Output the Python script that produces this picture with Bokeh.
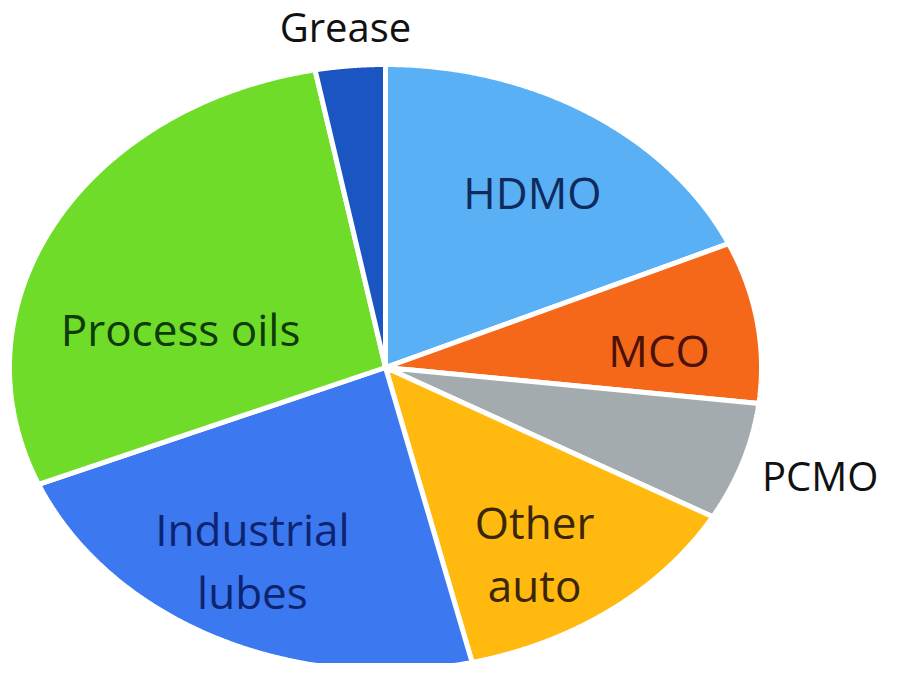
import numpy as np
from bokeh.plotting import figure
from bokeh.models import ColumnDataSource, Range1d
from bokeh.core.properties import value
from bokeh.embed import file_html
from bokeh.resources import INLINE

# data (clockwise from 12 o'clock)
categories = ["HDMO", "MCO", "PCMO", "Other auto", "Industrial lubes", "Process oils", "Grease"]
shares = [18.3, 8.6, 6.3, 13.1, 22.4, 28.3, 3.0]
label_texts = ["HDMO", "MCO", "PCMO", "Other\nauto", "Industrial\nlubes", "Process oils", "Grease"]

# styling / layout
fill_colors = ["#5AB0F5", "#F5681A", "#A3ABAE", "#FFB90F", "#3C78F0", "#6EDC28", "#1B55C2"]
text_colors = ["#0F2A5C", "#4A1208", "#111111", "#3A2608", "#0D2470", "#0F3A0A", "#111111"]
label_radius = [0.70, 0.73, 1.21, 0.73, 0.73, 0.56, 1.13]
label_nudge_deg = [-1, -4, 1, -4, -2, 15, 0]
label_sizes = ["44px", "44px", "40px", "44px", "44px", "44px", "40px"]

vals = np.array(shares, dtype=float)
frac = vals / vals.sum()
cum = np.concatenate([[0.0], np.cumsum(frac)])
# clockwise from top: math angle = pi/2 - 2*pi*f
start = np.pi / 2 - 2 * np.pi * cum[:-1]
end = np.pi / 2 - 2 * np.pi * cum[1:]

xs, ys = [], []
for a0, a1 in zip(start, end):
    t = np.linspace(a0, a1, 200)
    xs.append(np.concatenate([[0.0], np.cos(t)]).tolist())
    ys.append(np.concatenate([[0.0], np.sin(t)]).tolist())

mid = (start + end) / 2 + np.radians(label_nudge_deg)
lx = (np.array(label_radius) * np.cos(mid)).tolist()
ly = (np.array(label_radius) * np.sin(mid)).tolist()

W, H = 889, 663
cx, cy, rx, ry = 385, 367, 376, 303  # pixel centre and radii within the frame

p = figure(width=W, height=H, output_backend="svg", toolbar_location=None,
           x_range=Range1d(-cx / rx, (W - cx) / rx),
           y_range=Range1d(-(H - cy) / ry, cy / ry),
           min_border=0, match_aspect=False)
p.axis.visible = False
p.grid.visible = False
p.outline_line_color = None
p.background_fill_color = "white"

src = ColumnDataSource(dict(xs=xs, ys=ys, color=fill_colors, cat=categories))
p.patches("xs", "ys", source=src, fill_color="color", line_color="white", line_width=5)

lsrc = ColumnDataSource(dict(x=lx, y=ly, text=label_texts, tc=text_colors, size=label_sizes))
p.text("x", "y", text="text", source=lsrc, text_align="center", text_baseline="middle",
       text_color="tc", text_font_size="size", text_font=value("Open Sans"),
       text_line_height=1.05)

open("out.html", "w").write(file_html(p, INLINE))
